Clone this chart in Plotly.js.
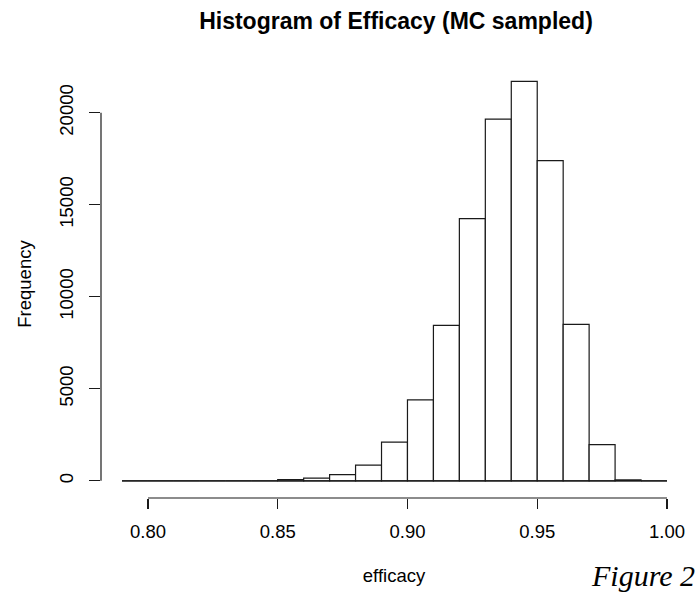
<!DOCTYPE html>
<html>
<head>
<meta charset="utf-8">
<script src="https://cdn.plot.ly/plotly-3.0.1.min.js"></script>
<style>html,body{margin:0;padding:0;background:#fff;}#chart{width:698px;height:593px;}</style>
</head>
<body>
<div id="chart"></div>
<script>
// Histogram bins (left edges) and counts
var binWidth = 0.01;
var binStarts = [0.79, 0.80, 0.81, 0.82, 0.83, 0.84, 0.85, 0.86, 0.87, 0.88, 0.89,
                 0.90, 0.91, 0.92, 0.93, 0.94, 0.95, 0.96, 0.97, 0.98, 0.99];
var counts = [0, 0, 0, 0, 0, 0, 70, 150, 330, 850, 2100,
              4400, 8450, 14250, 19650, 21700, 17400, 8500, 1960, 50, 0];
var xTickVals = [0.80, 0.85, 0.90, 0.95, 1.00];
var xTickText = ['0.80', '0.85', '0.90', '0.95', '1.00'];
var yTickVals = [0, 5000, 10000, 15000, 20000];
var yTickText = ['0', '5000', '10000', '15000', '20000'];

var centers = binStarts.map(function (s) { return +(s + binWidth / 2).toFixed(4); });
var lineCol = '#1a1a1a';
var font = 'Liberation Sans, Arial, sans-serif';

var trace = {
  type: 'bar',
  x: centers,
  y: counts,
  width: binWidth,
  marker: { color: '#ffffff', line: { color: lineCol, width: 1.2 } },
  hoverinfo: 'x+y'
};

var layout = {
  width: 698, height: 593,
  margin: { l: 101, r: 11, t: 70, b: 95.3 },
  paper_bgcolor: '#ffffff', plot_bgcolor: '#ffffff',
  showlegend: false,
  font: { family: font, color: '#000', size: 18.5 },
  title: {
    text: 'Histogram of Efficacy (MC sampled)',
    font: { family: font, size: 23, weight: 700, color: '#000' },
    x: 396 / 698, xref: 'container', xanchor: 'center',
    y: 1 - 21 / 593, yref: 'container', yanchor: 'middle'
  },
  xaxis: {
    range: [0.78191, 1.00771],
    showgrid: false, zeroline: false, showline: false,
    tickmode: 'array', tickvals: xTickVals, ticktext: xTickText,
    ticks: 'outside', ticklen: 10, tickwidth: 1.2, tickcolor: lineCol,
    ticklabelstandoff: 7,
    tickfont: { family: font, size: 18.5, color: '#000' },
    title: { text: 'efficacy', font: { family: font, size: 18.5, color: '#000' }, standoff: 27 }
  },
  yaxis: {
    range: [-935, 22322],
    showgrid: false, zeroline: false, showline: false,
    tickmode: 'array', tickvals: yTickVals, ticktext: yTickText,
    tickangle: -90,
    ticks: 'outside', ticklen: 11, tickwidth: 1.2, tickcolor: lineCol,
    ticklabelstandoff: 9,
    tickfont: { family: font, size: 18.5, color: '#000' },
    title: { text: 'Frequency', font: { family: font, size: 18.5, color: '#000' }, standoff: 19 }
  },
  shapes: [
    // x axis line spanning the labelled ticks
    { type: 'line', xref: 'x', yref: 'paper', x0: xTickVals[0], x1: xTickVals[xTickVals.length - 1], y0: 0, y1: 0,
      line: { color: lineCol, width: 1.2 } },
    // y axis line spanning the labelled ticks
    { type: 'line', xref: 'paper', yref: 'y', x0: 0, x1: 0, y0: yTickVals[0], y1: yTickVals[yTickVals.length - 1],
      line: { color: lineCol, width: 1.2 } },
    // baseline formed by the empty bins
    { type: 'line', xref: 'x', yref: 'y', x0: binStarts[0], x1: binStarts[binStarts.length - 1] + binWidth, y0: 0, y1: 0,
      line: { color: lineCol, width: 1.2 } }
  ],
  annotations: [
    { text: 'Figure 2', showarrow: false, xanchor: 'right', yanchor: 'middle',
      xref: 'paper', x: (697 - 101) / (698 - 101 - 11),
      yref: 'paper', y: -(575 - 497.7) / (497.7 - 70),
      font: { family: 'Liberation Serif, Times New Roman, serif', size: 30, style: 'italic', color: '#000' } }
  ]
};

Plotly.newPlot('chart', [trace], layout, { displayModeBar: false, staticPlot: true });
</script>
</body>
</html>
